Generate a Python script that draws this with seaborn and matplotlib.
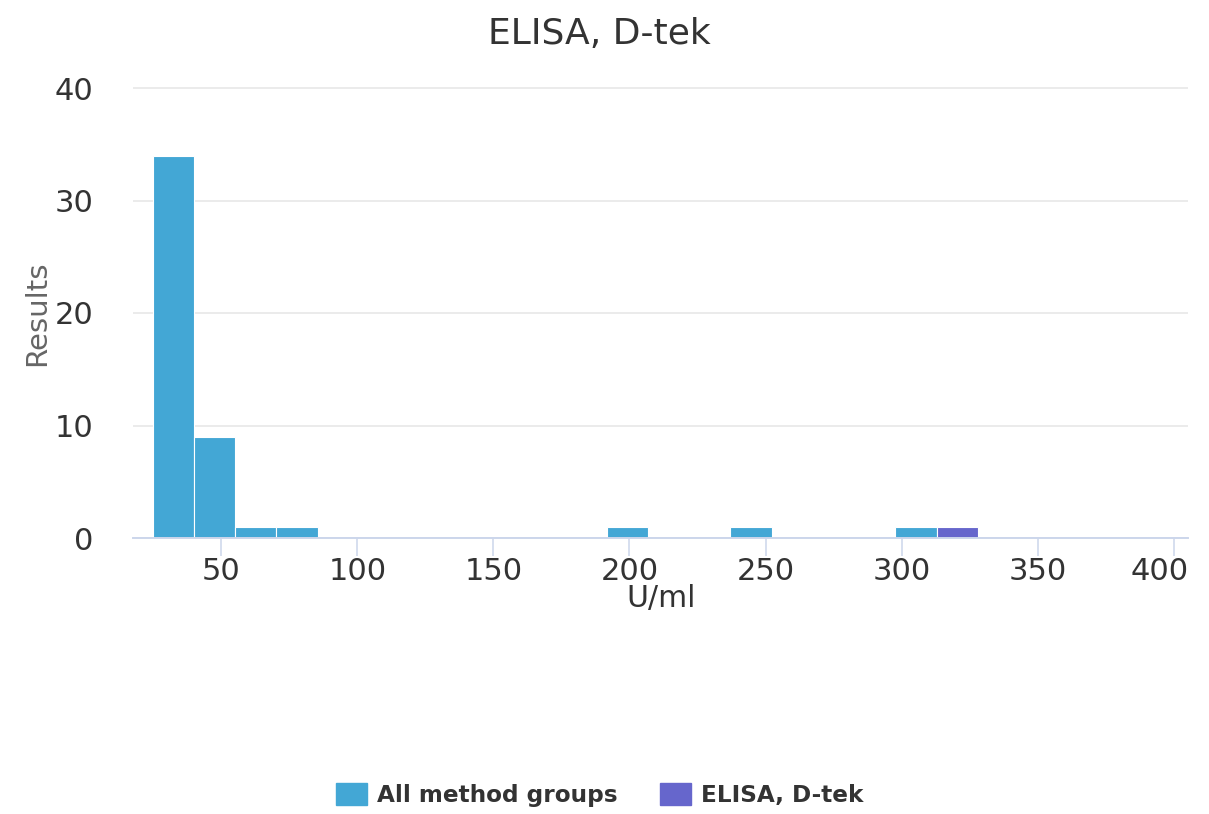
import matplotlib
matplotlib.use("Agg")
import matplotlib.pyplot as plt
import matplotlib.patches as mpatches
from matplotlib.transforms import ScaledTranslation
import pandas as pd
import seaborn as sns

# ---- data ----
bin_start = 24.8
bin_width = 15.16
n_bins = 21
all_counts = [34, 9, 1, 1, 0, 0, 0, 0, 0, 0, 0, 1, 0, 0, 1, 0, 0, 0, 1, 0, 0]
elisa_counts = [0, 0, 0, 0, 0, 0, 0, 0, 0, 0, 0, 0, 0, 0, 0, 0, 0, 0, 0, 1, 0]
x_ticks = [50, 100, 150, 200, 250, 300, 350, 400]
y_ticks = [0, 10, 20, 30, 40]
title = "ELISA, D-tek"
x_label = "U/ml"
y_label = "Results"
series_names = ["All method groups", "ELISA, D-tek"]
colors = ["#43a7d5", "#6666cc"]

edges = [bin_start + bin_width * i for i in range(n_bins + 1)]
centers = [(edges[i] + edges[i + 1]) / 2 for i in range(n_bins)]
df_all = pd.DataFrame({"x": centers, "w": all_counts})
df_el = pd.DataFrame({"x": centers, "w": elisa_counts})

sns.set_theme(style="white")
plt.rcParams['font.family'] = ['DejaVu Sans']

W, H = 1209, 814
fig = plt.figure(figsize=(W / 100, H / 100), dpi=100)
ytop = 40.3
ax_left, ax_right, ax_bottom = 133.3, 1188, 538
ax_top = 538 - ytop * 11.25
ax = fig.add_axes([ax_left / W, 1 - ax_bottom / H, (ax_right - ax_left) / W, (ax_bottom - ax_top) / H])

sns.histplot(data=df_all, x="x", weights="w", bins=edges, ax=ax,
             color=colors[0], alpha=1, edgecolor="white", linewidth=0.8)
sns.histplot(data=df_el, x="x", weights="w", bins=edges, ax=ax,
             color=colors[1], alpha=1, edgecolor="white", linewidth=0.8)

ax.set_xlim(17.7, 405.2)
ax.set_ylim(0, ytop)
ax.set_xticks(x_ticks)
ax.set_yticks(y_ticks)
ax.yaxis.grid(True, color="#e6e6e6", linewidth=1.1)
ax.set_axisbelow(True)
for s in ["top", "right", "left"]:
    ax.spines[s].set_visible(False)
ax.spines["bottom"].set_color("#ccd6eb")
ax.spines["bottom"].set_linewidth(1.4)
ax.spines["bottom"].set_zorder(3)
ax.tick_params(axis="x", bottom=True, length=13, width=1.1, color="#ccd6eb",
               labelsize=22, labelcolor="#333333", pad=1)
ax.tick_params(axis="y", left=False, labelsize=22, labelcolor="#333333", pad=22.7)

# last x tick label shifted left to stay within the plot width, as in the reference
lab = ax.get_xticklabels()[-1]
lab.set_transform(lab.get_transform() + ScaledTranslation(-0.14, 0, fig.dpi_scale_trans))

ax.set_xlabel("")
ax.set_ylabel("")
fig.text(660.7 / W, 1 - 607 / H, x_label, fontsize=21.5, color="#333333",
         ha="center", va="baseline")
fig.text(37.5 / W, 1 - 313 / H, y_label, fontsize=21, color="#666666",
         ha="center", va="center", rotation=90)
fig.text(599 / W, 1 - 43.5 / H, title, fontsize=26, color="#333333",
         ha="center", va="baseline")

handles = [mpatches.Patch(facecolor=c, edgecolor=c) for c in colors]
leg = fig.legend(handles, series_names, loc="center", bbox_to_anchor=(599.5 / W, 1 - 795 / H),
                 ncol=2, frameon=False, prop={"weight": "bold", "size": 16.7},
                 handlelength=1.36, handleheight=1.08, columnspacing=1.8, handletextpad=0.43,
                 borderpad=0)
for t in leg.get_texts():
    t.set_color("#333333")

fig.savefig("out.png", dpi=100)
